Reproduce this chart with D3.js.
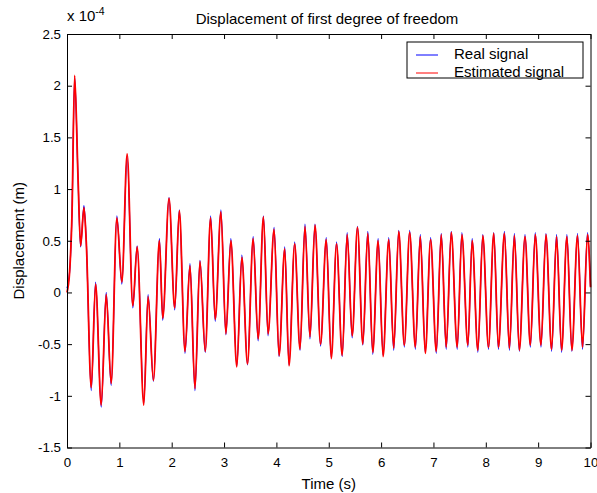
<!DOCTYPE html>
<html>
<head>
<meta charset="utf-8">
<script src="https://cdn.jsdelivr.net/npm/d3@7/dist/d3.min.js"></script>
<style>
body { margin: 0; background: #fff; }
text { font-family: "Liberation Sans", Arial, sans-serif; font-size: 15px; fill: #000; }
.tick text { font-size: 13.3px; }
</style>
</head>
<body>
<svg width="597" height="493"></svg>
<script>
// turning points: time in s, displacement in 1e-4 m
const time = [
  0, 0.05, 0.095, 0.146, 0.21, 0.26, 0.324, 0.368, 0.463, 0.546,
  0.654, 0.749, 0.844, 0.952, 1.048, 1.149, 1.257, 1.34, 1.467, 1.549,
  1.651, 1.765, 1.829, 1.949, 2.057, 2.146, 2.254, 2.349, 2.444, 2.54,
  2.641, 2.743, 2.832, 2.94, 3.035, 3.13, 3.244,
  3.34, 3.448, 3.556, 3.651, 3.752, 3.841, 3.956, 4.051, 4.159, 4.241,
  4.349, 4.451, 4.546, 4.641, 4.737, 4.844, 4.952, 5.048, 5.149, 5.257,
  5.352, 5.448, 5.549, 5.651, 5.746, 5.841, 5.943, 6.038, 6.146, 6.241,
  6.337, 6.444,
  6.546, 6.654, 6.749, 6.844, 6.946, 7.054, 7.149, 7.244, 7.34, 7.454,
  7.543, 7.657, 7.74, 7.848, 7.943, 8.051, 8.152, 8.241, 8.356, 8.451,
  8.546, 8.641, 8.749, 8.851, 8.945, 9.054, 9.149, 9.257, 9.352, 9.448,
  9.549, 9.644, 9.752, 9.848, 9.943, 10
];

const realSignal = [
  0.04, 0.2, 0.76, 2.08, 1.12, 0.44, 0.84, 0.49, -0.95, 0.1,
  -1.11, 0.0, -0.9, 0.74, 0.08, 1.32, -0.15, 0.45, -1.07, -0.02,
  -0.86, 0.52, -0.27, 0.92, -0.17, 0.8, -0.59, 0.28, -0.95, 0.31,
  -0.58, 0.74, -0.28, 0.8, -0.41, 0.52, -0.71,
  0.36, -0.7, 0.54, -0.47, 0.74, -0.42, 0.63, -0.62, 0.44, -0.7,
  0.49, -0.56, 0.66, -0.45, 0.66, -0.52, 0.53, -0.63, 0.49, -0.62,
  0.58, -0.44, 0.64, -0.51, 0.59, -0.6, 0.52, -0.61, 0.53, -0.56,
  0.6, -0.53,
  0.6, -0.55, 0.56, -0.58, 0.53, -0.59, 0.57, -0.55, 0.59, -0.55,
  0.58, -0.53, 0.52, -0.58, 0.56, -0.55, 0.58, -0.55, 0.59, -0.56,
  0.57, -0.57, 0.56, -0.53, 0.58, -0.53, 0.57, -0.57, 0.56, -0.58,
  0.56, -0.57, 0.57, -0.55, 0.58, 0.06
];

const estimatedSignal = [
  0, 0.2, 0.75, 2.1, 1.12, 0.45, 0.82, 0.49, -0.92, 0.08,
  -1.09, -0.02, -0.88, 0.72, 0.1, 1.34, -0.13, 0.44, -1.09, -0.04,
  -0.85, 0.5, -0.25, 0.91, -0.15, 0.79, -0.57, 0.26, -0.93, 0.3,
  -0.57, 0.72, -0.26, 0.78, -0.4, 0.5, -0.72,
  0.34, -0.69, 0.52, -0.45, 0.73, -0.4, 0.61, -0.61, 0.42, -0.71,
  0.47, -0.55, 0.64, -0.43, 0.65, -0.5, 0.51, -0.64, 0.47, -0.61,
  0.56, -0.42, 0.63, -0.5, 0.57, -0.58, 0.5, -0.62, 0.51, -0.54,
  0.59, -0.51,
  0.58, -0.53, 0.54, -0.59, 0.51, -0.57, 0.56, -0.53, 0.58, -0.53,
  0.56, -0.51, 0.5, -0.56, 0.55, -0.53, 0.57, -0.53, 0.57, -0.54,
  0.55, -0.56, 0.54, -0.51, 0.56, -0.51, 0.56, -0.55, 0.54, -0.56,
  0.54, -0.56, 0.55, -0.53, 0.56, 0.05
];

const xTicks = [0, 1, 2, 3, 4, 5, 6, 7, 8, 9, 10];
const yTicks = [-1.5, -1, -0.5, 0, 0.5, 1, 1.5, 2, 2.5];
const yTickLabels = ["-1.5", "-1", "-0.5", "0", "0.5", "1", "1.5", "2", "2.5"];
const seriesNames = ["Real signal", "Estimated signal"];
const seriesColors = ["#0000ff", "#ff0000"];

const margin = {top: 34, right: 6.5, bottom: 45.5, left: 67};
const W = 597, H = 493;
const plotW = W - margin.left - margin.right,
      plotH = H - margin.top - margin.bottom;

const svg = d3.select("svg");
const g = svg.append("g")
    .attr("transform", `translate(${margin.left}, ${margin.top})`);

const x = d3.scaleLinear().domain([0, 10]).range([0, plotW]);
const y = d3.scaleLinear().domain([-1.5, 2.5]).range([plotH, 0]);

g.append("rect")
    .attr("width", plotW).attr("height", plotH)
    .attr("fill", "#fff");

// signals, real first so the estimate sits on top
const line = d3.line()
    .x(d => x(d[0]))
    .y(d => y(d[1]))
    .curve(d3.curveMonotoneX);

const realPts = time.map((t, i) => [t, realSignal[i]]);
const estPts = time.map((t, i) => [t, estimatedSignal[i]]);

g.append("path")
    .datum(realPts)
    .attr("d", line)
    .attr("fill", "none")
    .attr("stroke", seriesColors[0])
    .attr("stroke-width", 1.2);

g.append("path")
    .datum(estPts)
    .attr("d", line)
    .attr("fill", "none")
    .attr("stroke", seriesColors[1])
    .attr("stroke-width", 1.8);

// axes, ticks inward like matlab
const axisStyle = sel => {
    sel.select(".domain").attr("stroke", "#000");
    sel.selectAll(".tick line").attr("stroke", "#000");
    sel.selectAll("text").attr("font-size", null).attr("font-family", null);
};

g.append("g")
    .attr("transform", `translate(0, ${plotH})`)
    .call(d3.axisBottom(x).tickValues(xTicks).tickFormat(d3.format("d"))
        .tickSizeInner(-5).tickSizeOuter(0).tickPadding(10))
    .call(axisStyle);

g.append("g")
    .call(d3.axisTop(x).tickValues(xTicks).tickFormat("")
        .tickSizeInner(-5).tickSizeOuter(0))
    .call(axisStyle);

g.append("g")
    .call(d3.axisLeft(y).tickValues(yTicks).tickFormat((d, i) => yTickLabels[i])
        .tickSizeInner(-5).tickSizeOuter(0).tickPadding(6))
    .call(axisStyle);

g.append("g")
    .attr("transform", `translate(${plotW}, 0)`)
    .call(d3.axisRight(y).tickValues(yTicks).tickFormat("")
        .tickSizeInner(-5).tickSizeOuter(0))
    .call(axisStyle);

// title and labels
svg.append("text")
    .attr("x", 327)
    .attr("y", 24)
    .attr("text-anchor", "middle")
    .attr("font-size", "16px")
    .text("Displacement of first degree of freedom");

svg.append("text")
    .attr("x", margin.left + plotW / 2)
    .attr("y", 489)
    .attr("text-anchor", "middle")
    .text("Time (s)");

svg.append("text")
    .attr("transform", `translate(24, ${margin.top + plotH / 2}) rotate(-90)`)
    .attr("text-anchor", "middle")
    .text("Displacement (m)");

const expo = svg.append("text")
    .attr("x", margin.left)
    .attr("y", 21)
    .attr("font-size", "14px");
expo.append("tspan").text("x 10");
expo.append("tspan").attr("dy", -6).attr("font-size", "10.5px").text("-4");

// legend
const legend = svg.append("g").attr("transform", "translate(407, 42)");
legend.append("rect")
    .attr("width", 176).attr("height", 36)
    .attr("fill", "#fff").attr("stroke", "#000").attr("stroke-width", 1);

seriesNames.forEach((name, i) => {
    const ly = 13 + i * 18;
    legend.append("line")
        .attr("x1", 9).attr("x2", 31)
        .attr("y1", ly).attr("y2", ly)
        .attr("stroke", seriesColors[i]).attr("stroke-width", 1);
    legend.append("text")
        .attr("x", 47).attr("y", ly + 4)
        .attr("font-size", "15.5px")
        .text(name);
});
</script>
</body>
</html>
